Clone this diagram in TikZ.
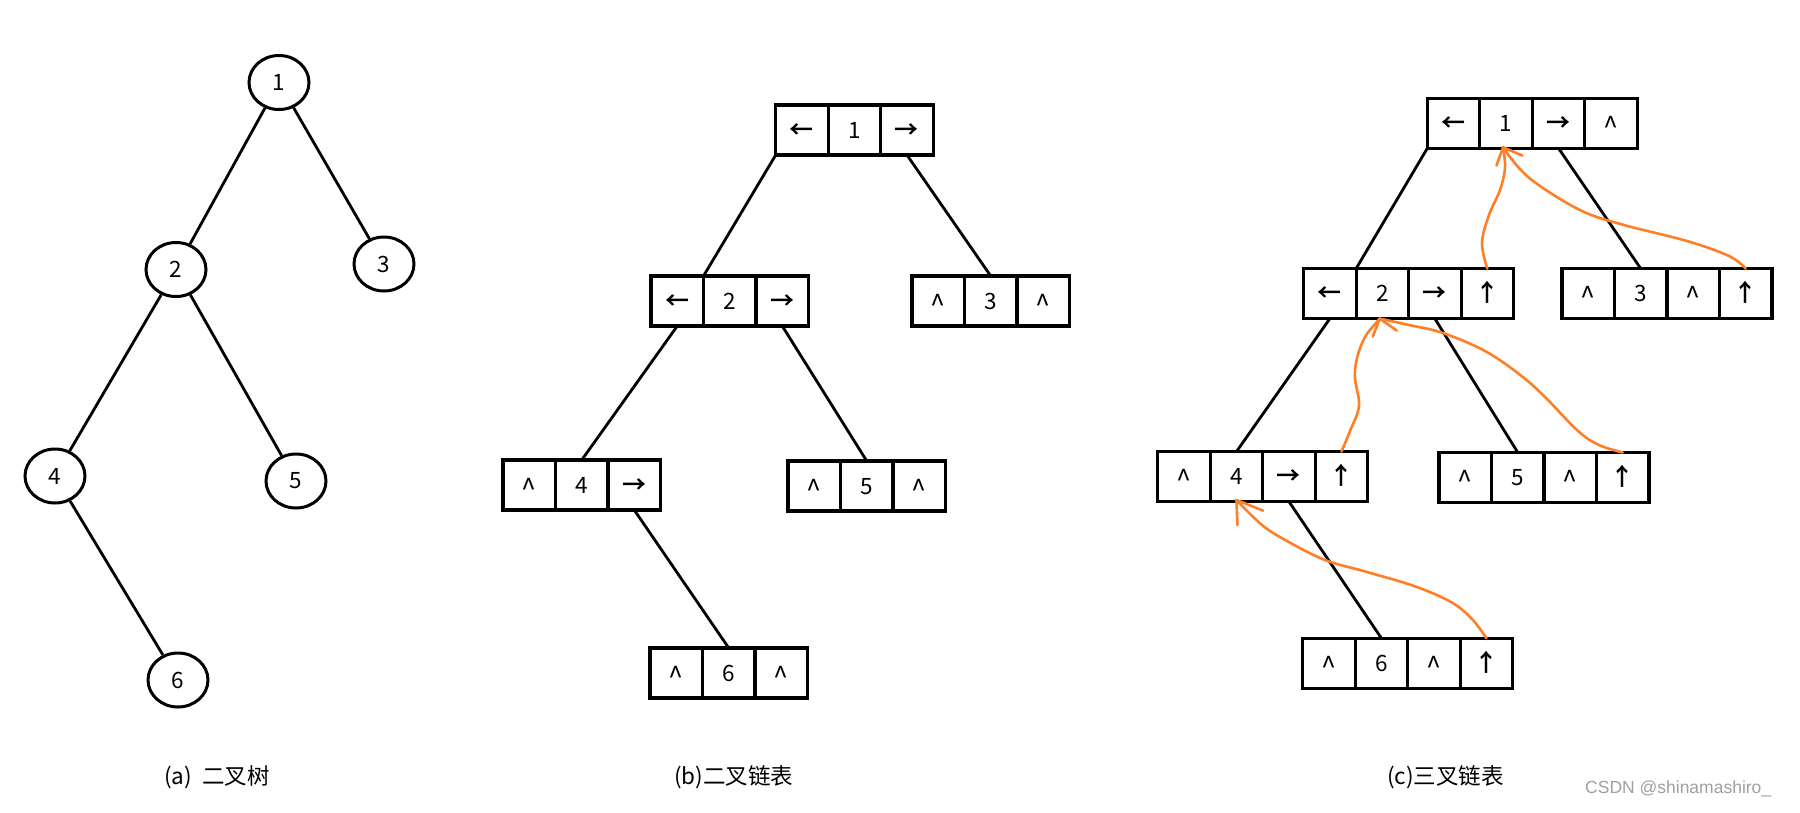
\documentclass[tikz,border=0pt]{standalone}
\usepackage{fontspec}
\setmainfont{Noto Sans CJK SC}[BoldFont={Noto Sans CJK SC Bold}]
\newfontfamily\wmfont{Liberation Sans}
\usetikzlibrary{shapes.geometric,calc}
\definecolor{paintorange}{RGB}{255,127,39}
\definecolor{wmgray}{RGB}{160,160,160}
\newcommand\arwglyph[1]{{\bfseries\fontsize{24}{28}\selectfont #1}}
\newcommand\nilglyph{{\fontsize{27}{30}\selectfont\textasciicircum}}
\begin{document}
\begin{tikzpicture}[x=1pt,y=-1pt,
  bcell/.style={draw, line width=3.2pt, minimum width=52.5pt, minimum height=50pt,
    inner sep=0pt, outer sep=0pt, anchor=north west,
    font=\fontsize{22.5}{27}\selectfont, text height=16.6pt, text depth=0pt},
  nilcell/.style={bcell, text height=26.5pt},
  tnode/.style={draw, ellipse, line width=3pt, minimum width=60pt, minimum height=54pt,
    inner sep=0pt, font=\fontsize{22.5}{27}\selectfont},
  link/.style={line width=2.8pt},
  uplink/.style={draw=paintorange, line width=2.6pt, line cap=round, line join=round},
  captext/.style={inner sep=0pt, anchor=west, font=\fontsize{22.5}{27}\selectfont}
]
\useasboundingbox (0,0) rectangle (1800,812);
\fill[white] (0,0) rectangle (1800,812);

% ---------- (a) binary tree ----------
\node[tnode] (e1) at (279,82.5) {1};
\node[tnode] (e2) at (176,269.5) {2};
\node[tnode] (e3) at (384,264) {3};
\node[tnode] (e4) at (55,476) {4};
\node[tnode] (e5) at (296,481) {5};
\node[tnode] (e6) at (178,680) {6};
\draw[link] (e1) -- (e2);
\draw[link] (e1) -- (e3);
\draw[link] (e2) -- (e4);
\draw[link] (e2) -- (e5);
\draw[link] (e4) -- (e6);

% ---------- (b) binary linked list ----------
\node[bcell] (b1a) at (775.7,105) {\arwglyph{←}};
\node[bcell] (b1b) at (b1a.north east) {1};
\node[bcell] (b1c) at (b1b.north east) {\arwglyph{→}};

\node[bcell] (b2a) at (651,276) {\arwglyph{←}};
\node[bcell] (b2b) at (b2a.north east) {2};
\node[bcell] (b2c) at (b2b.north east) {\arwglyph{→}};

\node[nilcell] (b3a) at (912,276) {\nilglyph};
\node[bcell] (b3b) at (b3a.north east) {3};
\node[nilcell] (b3c) at (b3b.north east) {\nilglyph};

\node[nilcell] (b4a) at (503,460) {\nilglyph};
\node[bcell] (b4b) at (b4a.north east) {4};
\node[bcell] (b4c) at (b4b.north east) {\arwglyph{→}};

\node[nilcell] (b5a) at (788,461) {\nilglyph};
\node[bcell] (b5b) at (b5a.north east) {5};
\node[nilcell] (b5c) at (b5b.north east) {\nilglyph};

\node[nilcell] (b6a) at (650,648) {\nilglyph};
\node[bcell] (b6b) at (b6a.north east) {6};
\node[nilcell] (b6c) at (b6b.north east) {\nilglyph};

\draw[link] (b1a.south west) -- (b2a.north east);
\draw[link] (b1c.south) -- (b3b.north);
\draw[link] (b2a.south) -- (b4b.north);
\draw[link] (b2c.south) -- (b5b.north);
\draw[link] (b4c.south) -- (b6b.north);

% ---------- (c) trinary linked list ----------
\node[bcell] (c1a) at (1427.3,98.3) {\arwglyph{←}};
\node[bcell] (c1b) at (c1a.north east) {1};
\node[bcell] (c1c) at (c1b.north east) {\arwglyph{→}};
\node[nilcell] (c1d) at (c1c.north east) {\nilglyph};

\node[bcell] (c2a) at (1303.6,268.6) {\arwglyph{←}};
\node[bcell] (c2b) at (c2a.north east) {2};
\node[bcell] (c2c) at (c2b.north east) {\arwglyph{→}};
\node[bcell] (c2d) at (c2c.north east) {\arwglyph{↑}};

\node[nilcell] (c3a) at (1562,268.6) {\nilglyph};
\node[bcell] (c3b) at (c3a.north east) {3};
\node[nilcell] (c3c) at (c3b.north east) {\nilglyph};
\node[bcell] (c3d) at (c3c.north east) {\arwglyph{↑}};

\node[nilcell] (c4a) at (1157.7,451.6) {\nilglyph};
\node[bcell] (c4b) at (c4a.north east) {4};
\node[bcell] (c4c) at (c4b.north east) {\arwglyph{→}};
\node[bcell] (c4d) at (c4c.north east) {\arwglyph{↑}};

\node[nilcell] (c5a) at (1439,452.5) {\nilglyph};
\node[bcell] (c5b) at (c5a.north east) {5};
\node[nilcell] (c5c) at (c5b.north east) {\nilglyph};
\node[bcell] (c5d) at (c5c.north east) {\arwglyph{↑}};

\node[nilcell] (c6a) at (1302.7,638.3) {\nilglyph};
\node[bcell] (c6b) at (c6a.north east) {6};
\node[nilcell] (c6c) at (c6b.north east) {\nilglyph};
\node[bcell] (c6d) at (c6c.north east) {\arwglyph{↑}};

\draw[link] (c1a.south west) -- (c2a.north east);
\draw[link] (c1c.south) -- (c3b.north);
\draw[link] (c2a.south) -- (c4b.north);
\draw[link] (c2c.south) -- (c5b.north);
\draw[link] (c4c.south) -- (c6b.north);

% parent pointers
\coordinate (tipA) at ($(c1b.south)+(-3,-1)$);
\coordinate (tipB) at ($(c2b.south)+(-2.6,0)$);
\coordinate (tipC) at ($(c4b.south)+(0,-1.6)$);

\draw[uplink] plot[smooth, tension=0.6] coordinates
  {(c2d.north) (1482,243) (1489,215) (1500,190) (1505,168) (tipA)};
\draw[uplink] plot[smooth, tension=0.6] coordinates
  {(c3d.north) (1729,256) (1687,241) (1624,225) (1582,211) (1540,186) (1519,168) (tipA)};
\draw[uplink] ($(tipA)+(-6.6,18.3)$) -- (tipA) -- ($(tipA)+(19.4,8.3)$);

\draw[uplink] plot[smooth, tension=0.6] coordinates
  {(c4d.north) (1350,431) (1359,406) (1355,378) (1357,358) (1365,337) (1376,323) (tipB)};
\draw[uplink] plot[smooth, tension=0.6] coordinates
  {(c5d.north) (1599,445) (1578,431) (1544,396) (1519,374) (1485,351) (1443,333) (1409,325) (tipB)};
\draw[uplink] ($(tipB)+(-7,18)$) -- (tipB) -- ($(tipB)+(17,12)$);

\draw[uplink] plot[smooth, tension=0.6] coordinates
  {(c6d.north) (1472,619) (1451,602) (1414,586) (1367,572) (1325,560) (1287,541) (1262,525) (tipC)};
\draw[uplink] ($(tipC)+(1,25)$) -- (tipC) -- ($(tipC)+(26.7,10.7)$);

% ---------- captions ----------
\node[captext] (capa) at (164,777) {(a)\hspace{0.45em}二叉树};
\node[captext] (capb) at (674,777) {(b)二叉链表};
\node[captext] (capc) at (1387,777) {(c)三叉链表};
\node[anchor=base west, inner sep=0pt, text=wmgray,
  font=\wmfont\fontsize{17.5}{20}\selectfont] (wm) at (1585,793) {CSDN @shinamashiro\_};
\end{tikzpicture}
\end{document}
